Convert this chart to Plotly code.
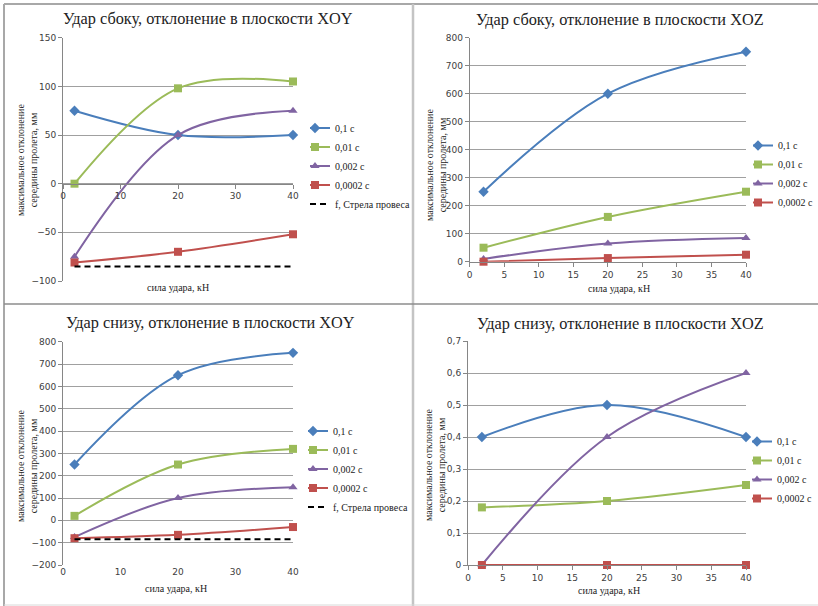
import plotly.graph_objects as go

W, H = 818, 606

# ---------------- data ----------------
force = [2, 20, 40]
series_names = ["0,1 с", "0,01 с", "0,002 с", "0,0002 с"]
sag_name = "f, Стрела провеса"

side_xoy = [[75, 50, 50], [0, 98, 105], [-75, 50, 75], [-81, -70, -52]]
side_xoy_sag = [-85, -85, -85]
side_xoz = [[250, 600, 750], [50, 160, 250], [10, 65, 85], [0, 13, 25]]
bottom_xoy = [[250, 650, 750], [20, 250, 320], [-75, 100, 148], [-80, -65, -30]]
bottom_xoy_sag = [-85, -85, -85]
bottom_xoz = [[0.4, 0.5, 0.4], [0.18, 0.2, 0.25], [0, 0.4, 0.6], [0, 0, 0]]

titles = [
    "Удар сбоку, отклонение в плоскости XOY",
    "Удар сбоку, отклонение в плоскости XOZ",
    "Удар снизу, отклонение в плоскости XOY",
    "Удар снизу, отклонение в плоскости XOZ",
]
x_title = "сила удара, кН"
y_title = "максимальное отклонение<br>середины пролета, мм"

# ---------------- style ----------------
colors = ["#4A7EBB", "#9BBB59", "#8064A2", "#C0504D"]
symbols = ["diamond", "square", "triangle-up", "square"]
msizes = [8, 8, 8, 8]
GRID = "#a0a0a0"
AXIS = "#868686"
TICKFONT = dict(family="DejaVu Sans", size=9, color="#404040")
SERIF = "Liberation Serif"


def px(x):
    return x / W


def py(y):
    return 1 - y / H


panels = [
    dict(data=side_xoy, sag=side_xoy_sag, xd=(63, 293), yd=(37.7, 281), yr=(-100, 150), ydt=50,
         xdt=10, leg=(310, 166), title=(208, 18), ytitle=(27, 160), xtitle=(178, 287), mode="cross0"),
    dict(data=side_xoz, sag=None, xd=(469.7, 746), yd=(37.7, 261.7), yr=(0, 800), ydt=100,
         xdt=5, leg=(753, 174), title=(620, 20), ytitle=(436, 165), xtitle=(619, 288), mode="bottom"),
    dict(data=bottom_xoy, sag=bottom_xoy_sag, xd=(63, 293), yd=(341.7, 565), yr=(-200, 800), ydt=100,
         xdt=10, leg=(308, 469), title=(210, 322), ytitle=(27, 466), xtitle=(176, 588), mode="low"),
    dict(data=bottom_xoz, sag=None, xd=(468, 746), yd=(341, 565), yr=(0, 0.7), ydt=0.1,
         xdt=5, leg=(752, 470), title=(620, 323), ytitle=(435, 465), xtitle=(609, 590), mode="bottom"),
]

fig = go.Figure()
annotations = []
layout = dict(
    width=W, height=H,
    margin=dict(l=0, r=0, t=0, b=0, autoexpand=False),
    paper_bgcolor="white", plot_bgcolor="white",
    separators=", ",
    showlegend=True,
)

for i, p in enumerate(panels):
    n = i + 1
    sx = "" if n == 1 else str(n)
    xa, ya = "x" + sx, "y" + sx
    leg = "legend" + sx
    for k, name in enumerate(series_names):
        fig.add_trace(go.Scatter(
            x=force, y=p["data"][k], name=name, xaxis=xa, yaxis=ya, legend=leg,
            mode="lines+markers", line=dict(color=colors[k], width=2, shape="spline", smoothing=1),
            marker=dict(symbol=symbols[k], size=msizes[k], color=colors[k]),
            cliponaxis=False,
        ))
    if p["sag"] is not None:
        fig.add_trace(go.Scatter(
            x=force, y=p["sag"], name=sag_name, xaxis=xa, yaxis=ya, legend=leg,
            mode="lines", line=dict(color="black", width=2, dash="6px,4px"),
        ))

    xdom = [px(p["xd"][0]), px(p["xd"][1])]
    ydom = [py(p["yd"][1]), py(p["yd"][0])]
    y0, y1 = p["yr"]
    zero_pos = ydom[0] + (0 - y0) / (y1 - y0) * (ydom[1] - ydom[0])

    xaxis = dict(domain=xdom, range=[0, 40], dtick=p["xdt"], tick0=0, showgrid=False, zeroline=False,
                 tickfont=TICKFONT, fixedrange=True)
    if p["mode"] == "cross0":
        xaxis.update(anchor="free", position=zero_pos, showline=True, linecolor=AXIS, linewidth=1,
                     ticks="outside", ticklen=4, tickcolor=AXIS)
    elif p["mode"] == "bottom":
        xaxis.update(anchor=ya, showline=True, linecolor=AXIS, linewidth=1,
                     ticks="outside", ticklen=4, tickcolor=AXIS)
    else:  # labels low, axis line crossing at zero
        xaxis.update(anchor=ya, showline=False, ticks="")
        layout["xaxis5"] = dict(overlaying=xa, anchor="free", position=zero_pos, range=[0, 40],
                                dtick=p["xdt"], tick0=0, showgrid=False, zeroline=False,
                                showticklabels=False, showline=True, linecolor=AXIS, linewidth=1,
                                ticks="outside", ticklen=4, tickcolor=AXIS, fixedrange=True)
    yaxis = dict(domain=ydom, range=list(p["yr"]), dtick=p["ydt"], tick0=0, anchor=xa,
                 showgrid=True, gridcolor=GRID, gridwidth=1, zeroline=False,
                 showline=True, linecolor=AXIS, linewidth=1, ticks="outside", ticklen=4,
                 tickcolor=AXIS, tickfont=TICKFONT, fixedrange=True)
    layout["xaxis" + sx] = xaxis
    layout["yaxis" + sx] = yaxis

    layout[leg] = dict(x=px(p["leg"][0]), y=py(p["leg"][1]), xanchor="left", yanchor="middle",
                       font=dict(family=SERIF, size=10, color="#222222"), indentation=-15,
                       bgcolor="rgba(0,0,0,0)", borderwidth=0, itemclick=False)

    annotations.append(dict(text=titles[i], x=px(p["title"][0]), y=py(p["title"][1]), xref="paper",
                            yref="paper", showarrow=False, xanchor="center", yanchor="middle",
                            font=dict(family=SERIF, size=16.3, color="#222222")))
    annotations.append(dict(text=y_title, x=px(p["ytitle"][0]), y=py(p["ytitle"][1]), xref="paper",
                            yref="paper", showarrow=False, xanchor="center", yanchor="middle",
                            textangle=-90, font=dict(family=SERIF, size=10, color="#222222")))
    annotations.append(dict(text=x_title, x=px(p["xtitle"][0]), y=py(p["xtitle"][1]), xref="paper",
                            yref="paper", showarrow=False, xanchor="center", yanchor="middle",
                            font=dict(family=SERIF, size=10, color="#222222")))

layout["annotations"] = annotations

# panel frame lines
BORDER = "#a8a8a8"
layout["shapes"] = [
    dict(type="line", xref="paper", yref="paper", x0=px(4), x1=px(4), y0=py(4), y1=0,
         line=dict(color=BORDER, width=2)),
    dict(type="line", xref="paper", yref="paper", x0=px(4), x1=1, y0=py(4), y1=py(4),
         line=dict(color=BORDER, width=2)),
    dict(type="line", xref="paper", yref="paper", x0=px(413), x1=px(413), y0=py(4), y1=0,
         line=dict(color="#c4c4c4", width=2.5)),
    dict(type="line", xref="paper", yref="paper", x0=px(4), x1=1, y0=py(304), y1=py(304),
         line=dict(color="#8c8c8c", width=1.5)),
    dict(type="line", xref="paper", yref="paper", x0=px(4), x1=1, y0=py(605), y1=py(605),
         line=dict(color="#d8d8d8", width=1)),
]

fig.update_layout(**layout)
fig.write_html("out.html")
